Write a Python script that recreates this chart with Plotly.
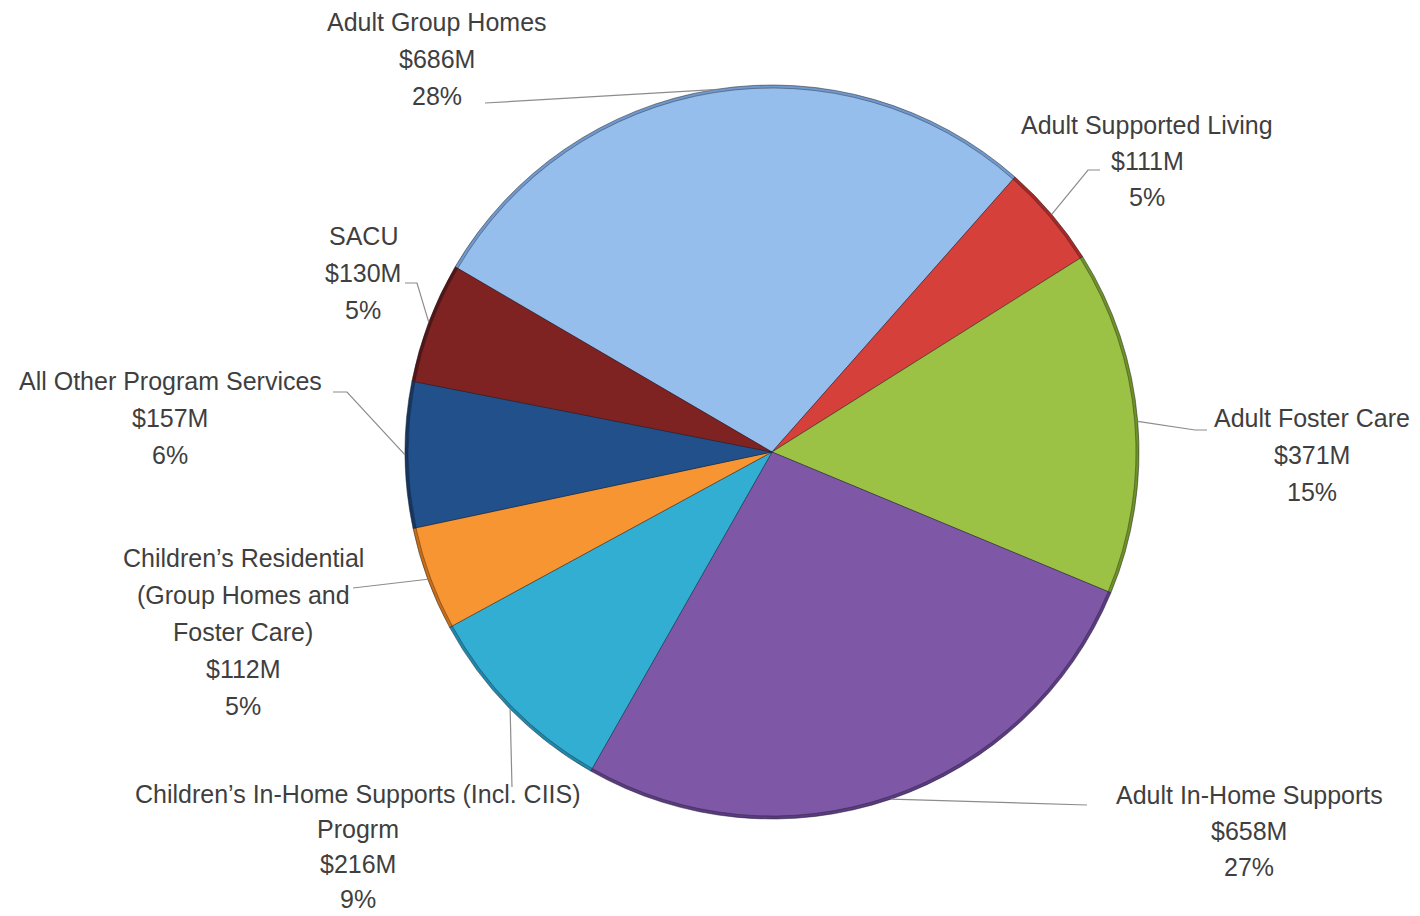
import math
import plotly.graph_objects as go

# Program spending, clockwise from the top slice
programs = [
    "Adult Group Homes",
    "Adult Supported Living",
    "Adult Foster Care",
    "Adult In-Home Supports",
    "Children’s In-Home Supports (Incl. CIIS) Progrm",
    "Children’s Residential (Group Homes and Foster Care)",
    "All Other Program Services",
    "SACU",
]
spending_musd = [686, 111, 371, 658, 216, 112, 157, 130]

# How each program name wraps in its label
name_lines = [
    ["Adult Group Homes"],
    ["Adult Supported Living"],
    ["Adult Foster Care"],
    ["Adult In-Home Supports"],
    ["Children’s In-Home Supports (Incl. CIIS)", "Progrm"],
    ["Children’s Residential", "(Group Homes and", "Foster Care)"],
    ["All Other Program Services"],
    ["SACU"],
]

slice_colors = ["#96BEEC", "#D6403A", "#9CC245", "#7E58A7",
                "#33AED3", "#F79533", "#21508A", "#7E2322"]
rim_colors = ["#6F98CC", "#A52A26", "#6E9225", "#5A3A80",
              "#1E88AC", "#C96E15", "#143660", "#561414"]

# ---- layout geometry (pixels) ----
W, H = 1420, 916
CX, CY, R = 772, 452, 367
RIM = 3                   # width of the darker outer rim
ROTATION = -59.7          # start angle of the first slice, clockwise from 12 o'clock
FONT = dict(family="Liberation Sans, Arial, sans-serif", size=25, color="#3F3F3F")

# label block: centre x, centre y of first line, line spacing
label_pos = [
    (437, 22, 37), (1147, 125, 36), (1312, 418, 37), (1249, 795, 36),
    (358, 794, 35), (243, 558, 37), (170, 381, 37), (363, 236, 37),
]
# leader-line points after the slice edge (pixels)
leader_tail = [
    [(485, 103)],
    [(1088, 170), (1100, 170)],
    [(1195, 430), (1207, 430)],
    [(1087, 805)],
    [(512, 787)],
    [(353, 588)],
    [(347, 392), (333, 392)],
    [(417, 283), (405, 283)],
]


def px(x):
    return x / W


def py(y):
    return 1 - y / H


def pie(colors, radius, line):
    return go.Pie(
        labels=programs,
        values=spending_musd,
        sort=False,
        direction="clockwise",
        rotation=ROTATION,
        textinfo="none",
        hoverinfo="label+value+percent",
        marker=dict(colors=colors, line=line),
        domain=dict(x=[px(CX - radius), px(CX + radius)],
                    y=[py(CY + radius), py(CY - radius)]),
        showlegend=False,
    )


total = sum(spending_musd)

fig = go.Figure()
fig.add_trace(pie(rim_colors, R, dict(color="rgba(30,30,40,0.5)", width=1)))
fig.add_trace(pie(slice_colors, R - RIM, dict(color="rgba(30,30,40,0.4)", width=1)))

annotations = []
shapes = []
angle = ROTATION
for i, v in enumerate(spending_musd):
    span = v / total * 360
    mid = math.radians(angle + span / 2)
    angle += span
    ex = CX + R * math.sin(mid)
    ey = CY - R * math.cos(mid)

    pts = [(ex, ey)] + leader_tail[i]
    path = "M " + " L ".join(f"{px(x):.5f},{py(y):.5f}" for x, y in pts)
    shapes.append(dict(type="path", xref="paper", yref="paper", path=path,
                       line=dict(color="#8C8C8C", width=1.2)))

    lines = name_lines[i] + [f"${v}M", f"{round(v / total * 100)}%"]
    lx, ly, gap = label_pos[i]
    for k, t in enumerate(lines):
        annotations.append(dict(
            x=px(lx), y=py(ly + k * gap), xref="paper", yref="paper",
            text=t, showarrow=False, xanchor="center", yanchor="middle", font=FONT,
        ))

fig.update_layout(
    width=W, height=H, autosize=False,
    margin=dict(l=0, r=0, t=0, b=0),
    paper_bgcolor="white", plot_bgcolor="white",
    annotations=annotations, shapes=shapes,
)

fig.write_html("out.html")
